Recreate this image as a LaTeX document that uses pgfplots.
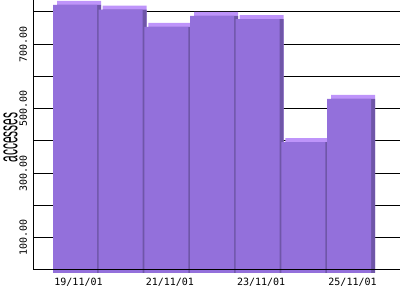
\documentclass[border=0pt]{standalone}
\usepackage{fontspec}
\setmainfont{Liberation Sans}
\setmonofont{DejaVu Sans Mono}
\usepackage{graphicx}
\usepackage{pgfplots}
\usepackage{pgfplotstable}
\pgfplotsset{compat=1.18}
\definecolor{barfront}{RGB}{147,112,219}
\definecolor{bartop}{RGB}{190,148,250}
\definecolor{barside}{RGB}{111,86,168}
\pgfplotstableread{
x y
0 831
1 817
2 763
3 797
4 787
5 406
6 540
}\accesses
\begin{document}
\begin{tikzpicture}
\useasboundingbox (0,0) rectangle (400pt,300pt);
\begin{axis}[
  at={(34pt,27pt)}, anchor=south west,
  scale only axis, width=366pt, height=273pt,
  xmin=-0.898, xmax=7.116, ymin=0, ymax=846.5,
  axis line style={draw=none},
  major tick length=0pt,
  ytick={109.3,209.3,309.3,409.3,509.3,609.3,709.3,809.3},
  yticklabels={100.00,,300.00,,500.00,,700.00,},
  ymajorgrids, grid style={black, line width=1pt},
  xtick={0,2,4,6},
  xticklabels={19/11/01,21/11/01,23/11/01,25/11/01},
  tick label style={font=\ttfamily\fontsize{10}{10}\selectfont},
  xticklabel style={anchor=north, inner sep=0pt, yshift=-5pt, xshift=3.5pt},
  yticklabel style={xshift=-7pt, rotate=90, anchor=base, inner sep=0pt},
  ylabel={\scalebox{0.46}[1]{\fontsize{26}{26}\selectfont accesses}},
  ylabel style={at={(rel axis cs:-0.064,0.496)}, anchor=center},
  clip=false,
]
\addplot[ybar, bar width=44pt, bar shift=0pt, fill=bartop, draw=none, xshift=4pt, yshift=4pt] table[x=x,y=y] {\accesses};
\addplot[ybar, bar width=44pt, bar shift=0pt, fill=barside, draw=none, xshift=4pt] table[x=x,y=y] {\accesses};
\addplot[ybar, bar width=44pt, bar shift=0pt, fill=barfront, draw=none] table[x=x,y=y] {\accesses};
\draw[black, line width=1pt] (axis cs:-0.898,9.3) -- (axis cs:7.116,9.3);
\draw[black, line width=1pt] (axis cs:-0.898,9.3) -- (axis cs:-0.898,846.5);
\end{axis}
\end{tikzpicture}
\end{document}
